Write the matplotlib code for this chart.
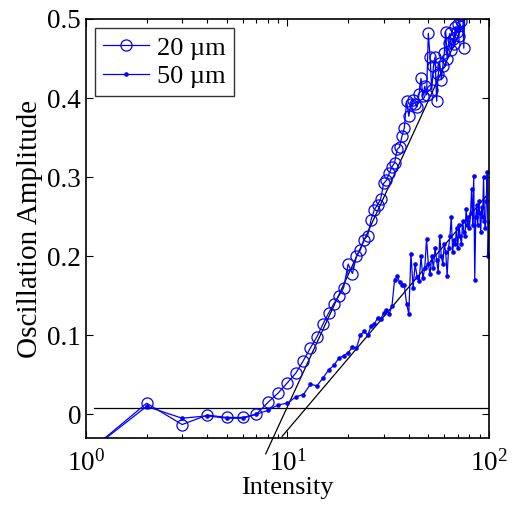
import numpy as np
import matplotlib
matplotlib.use("Agg")
import matplotlib.pyplot as plt
from matplotlib.ticker import FuncFormatter, LogLocator

plt.rcParams["font.family"] = ["Liberation Serif", "DejaVu Serif"]
plt.rcParams["mathtext.fontset"] = "custom"
plt.rcParams["mathtext.rm"] = "Liberation Serif"
plt.rcParams["mathtext.it"] = "Liberation Serif:italic"

# 20 um series: intensity 1..77
amp_20 = [
    -0.050, 0.014, -0.013, -0.001, -0.004, -0.004, 0.000, 0.015, 0.027, 0.040,
    0.052, 0.068, 0.084, 0.098, 0.114, 0.128, 0.140, 0.150, 0.160, 0.190,
    0.178, 0.200, 0.208, 0.221, 0.226, 0.246, 0.259, 0.265, 0.272, 0.292,
    0.296, 0.305, 0.313, 0.318, 0.335, 0.338, 0.352, 0.362, 0.396, 0.377,
    0.392, 0.398, 0.393, 0.389, 0.405, 0.425, 0.402, 0.415, 0.404, 0.482,
    0.452, 0.410, 0.440, 0.452, 0.396, 0.430, 0.444, 0.423, 0.440, 0.457,
    0.484, 0.450, 0.470, 0.482, 0.461, 0.475, 0.468, 0.490, 0.484, 0.494,
    0.478, 0.505, 0.497, 0.510, 0.463, 0.520, 0.535,
]
int_20 = list(range(1, len(amp_20) + 1))

# 50 um series: intensity 1..100
amp_50 = [
    -0.050, 0.010, -0.005, -0.002, -0.005, -0.005, 0.000, 0.005, 0.012, 0.014,
    0.022, 0.025, 0.038, 0.036, 0.046, 0.056, 0.062, 0.071, 0.074, 0.078,
    0.085, 0.084, 0.100, 0.105, 0.100, 0.112, 0.114, 0.122, 0.120, 0.128,
    0.132, 0.127, 0.137, 0.170, 0.175, 0.167, 0.164, 0.163, 0.140, 0.127,
    0.203, 0.160, 0.190, 0.174, 0.168, 0.200, 0.172, 0.185, 0.222, 0.190,
    0.177, 0.200, 0.185, 0.210, 0.195, 0.180, 0.225, 0.200, 0.190, 0.215,
    0.205, 0.175, 0.210, 0.225, 0.250, 0.205, 0.220, 0.215, 0.235, 0.210,
    0.240, 0.225, 0.215, 0.245, 0.230, 0.225, 0.260, 0.240, 0.250, 0.235,
    0.255, 0.285, 0.240, 0.302, 0.170, 0.250, 0.265, 0.240, 0.270, 0.255,
    0.230, 0.262, 0.250, 0.300, 0.245, 0.235, 0.270, 0.306, 0.200, 0.243,
]
int_50 = list(range(1, len(amp_50) + 1))

# fitted lines and threshold
fit_20_x = [7.8, 74.0]
fit_20_y = [-0.050, 0.491]
fit_50_x = [9.4, 99.0]
fit_50_y = [-0.028, 0.279]
thresh_x = [1.1, 100.0]
thresh_y = [0.008, 0.008]

fig = plt.figure(figsize=(5.17, 5.08), dpi=100)
ax = fig.add_axes([0.1663, 0.1378, 0.7795, 0.8248])

ax.plot(thresh_x, thresh_y, color="black", lw=0.9)
ax.plot(fit_20_x, fit_20_y, color="black", lw=0.9, clip_on=False)
ax.plot(fit_50_x, fit_50_y, color="black", lw=0.9, clip_on=False)
ax.plot(int_20, amp_20, color="blue", lw=0.9, marker="o", ms=8,
        mfc="none", mec="blue", mew=0.9, label="20 µm")
ax.plot(int_50, amp_50, color="blue", lw=0.9, marker="o", ms=2.3,
        mfc="blue", mec="blue", label="50 µm")

ax.set_xscale("log")
ax.set_xlim(1, 100)
ax.set_ylim(-0.03, 0.5)
ax.set_yticks([0, 0.1, 0.2, 0.3, 0.4, 0.5])
ax.yaxis.set_major_formatter(FuncFormatter(lambda v, p: "%g" % v))
ax.xaxis.set_minor_locator(LogLocator(base=10, subs=np.arange(2, 10)))

ax.tick_params(which="both", direction="in", top=True, right=True,
               labelsize=19.5, width=0.8)
ax.tick_params(which="major", length=5)
ax.tick_params(which="minor", length=3)
ax.tick_params(axis="x", pad=9)
for s in ax.spines.values():
    s.set_linewidth(1.2)

ax.set_xlabel("Intensity", fontsize=19, labelpad=0)
ax.set_ylabel("Oscillation Amplitude", fontsize=21, labelpad=3)

leg = ax.legend(loc="upper left", fontsize=19, frameon=True, fancybox=False,
                edgecolor="black", handlelength=1.75, borderpad=0.3,
                labelspacing=0.2, handletextpad=0.3, borderaxespad=0.35)
leg.get_frame().set_linewidth(1.0)

fig.savefig("out.png", dpi=100)
